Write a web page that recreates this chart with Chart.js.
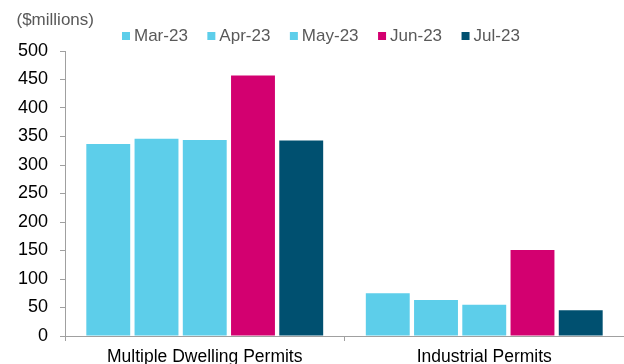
<!DOCTYPE html>
<html>
<head>
<meta charset="utf-8">
<script src="https://cdn.jsdelivr.net/npm/chart.js@4/dist/chart.umd.min.js"></script>
<style>
html,body{margin:0;padding:0;background:#fff;}
#c{display:block;}
</style>
</head>
<body>
<canvas id="c" width="624" height="364"></canvas>
<script>
const categories = ["Multiple Dwelling Permits", "Industrial Permits"];
const seriesLabels = ["Mar-23", "Apr-23", "May-23", "Jun-23", "Jul-23"];
const mar23 = [337, 75];
const apr23 = [346, 63];
const may23 = [344, 55];
const jun23 = [457, 151];
const jul23 = [343, 45];
const yTicks = [0, 50, 100, 150, 200, 250, 300, 350, 400, 450, 500];
const unitLabel = "($millions)";

const colors = ["#5DCEEA", "#5DCEEA", "#5DCEEA", "#D30070", "#005070"];
const seriesValues = [mar23, apr23, may23, jun23, jul23];
const FONT = "'Liberation Sans', Arial, sans-serif";
const AXIS = "#a0a0a0";

const overlay = {
  id: "overlay",
  afterDraw(chart) {
    const ctx = chart.ctx;
    ctx.save();
    ctx.fillStyle = "#595959";
    ctx.font = "17px " + FONT;
    ctx.textBaseline = "middle";
    ctx.textAlign = "left";
    ctx.fillText(unitLabel, 16.5, 20);
    // legend
    ctx.font = "17px " + FONT;
    let x = 122;
    const yc = 36;
    chart.data.datasets.forEach(ds => {
      ctx.fillStyle = ds.backgroundColor;
      ctx.fillRect(x, yc - 4, 8, 8);
      x += 8 + 4;
      ctx.fillStyle = "#595959";
      ctx.fillText(ds.label, x, yc);
      x += ctx.measureText(ds.label).width + 19.5;
    });
    ctx.restore();
  }
};

new Chart(document.getElementById("c"), {
  type: "bar",
  data: {
    labels: categories,
    datasets: seriesLabels.map((l, i) => ({
      label: l,
      data: seriesValues[i],
      backgroundColor: colors[i],
      borderWidth: 0,
      categoryPercentage: 0.863,
      barPercentage: 0.91
    }))
  },
  options: {
    responsive: false,
    animation: false,
    devicePixelRatio: 1,
    layout: { padding: { top: 51, left: 0, right: 0, bottom: 0 } },
    plugins: { legend: { display: false }, tooltip: { enabled: false } },
    scales: {
      x: {
        afterFit(s) { s.height = 28; },
        grid: { display: true, drawOnChartArea: false, drawTicks: true, tickLength: 5, color: AXIS, offset: true },
        border: { display: true, color: AXIS, width: 1 },
        ticks: { color: "#000", font: { family: FONT, size: 17.5 }, padding: 6, maxRotation: 0, autoSkip: false }
      },
      y: {
        min: 0, max: 500,
        afterFit(s) { s.width = 65; },
        afterBuildTicks(s) { s.ticks = yTicks.map(v => ({ value: v })); },
        grid: { display: true, drawOnChartArea: false, drawTicks: true, tickLength: 5, color: AXIS },
        border: { display: true, color: AXIS, width: 1 },
        ticks: { color: "#000", font: { family: FONT, size: 18 }, padding: 12 }
      }
    }
  },
  plugins: [overlay]
});
</script>
</body>
</html>
